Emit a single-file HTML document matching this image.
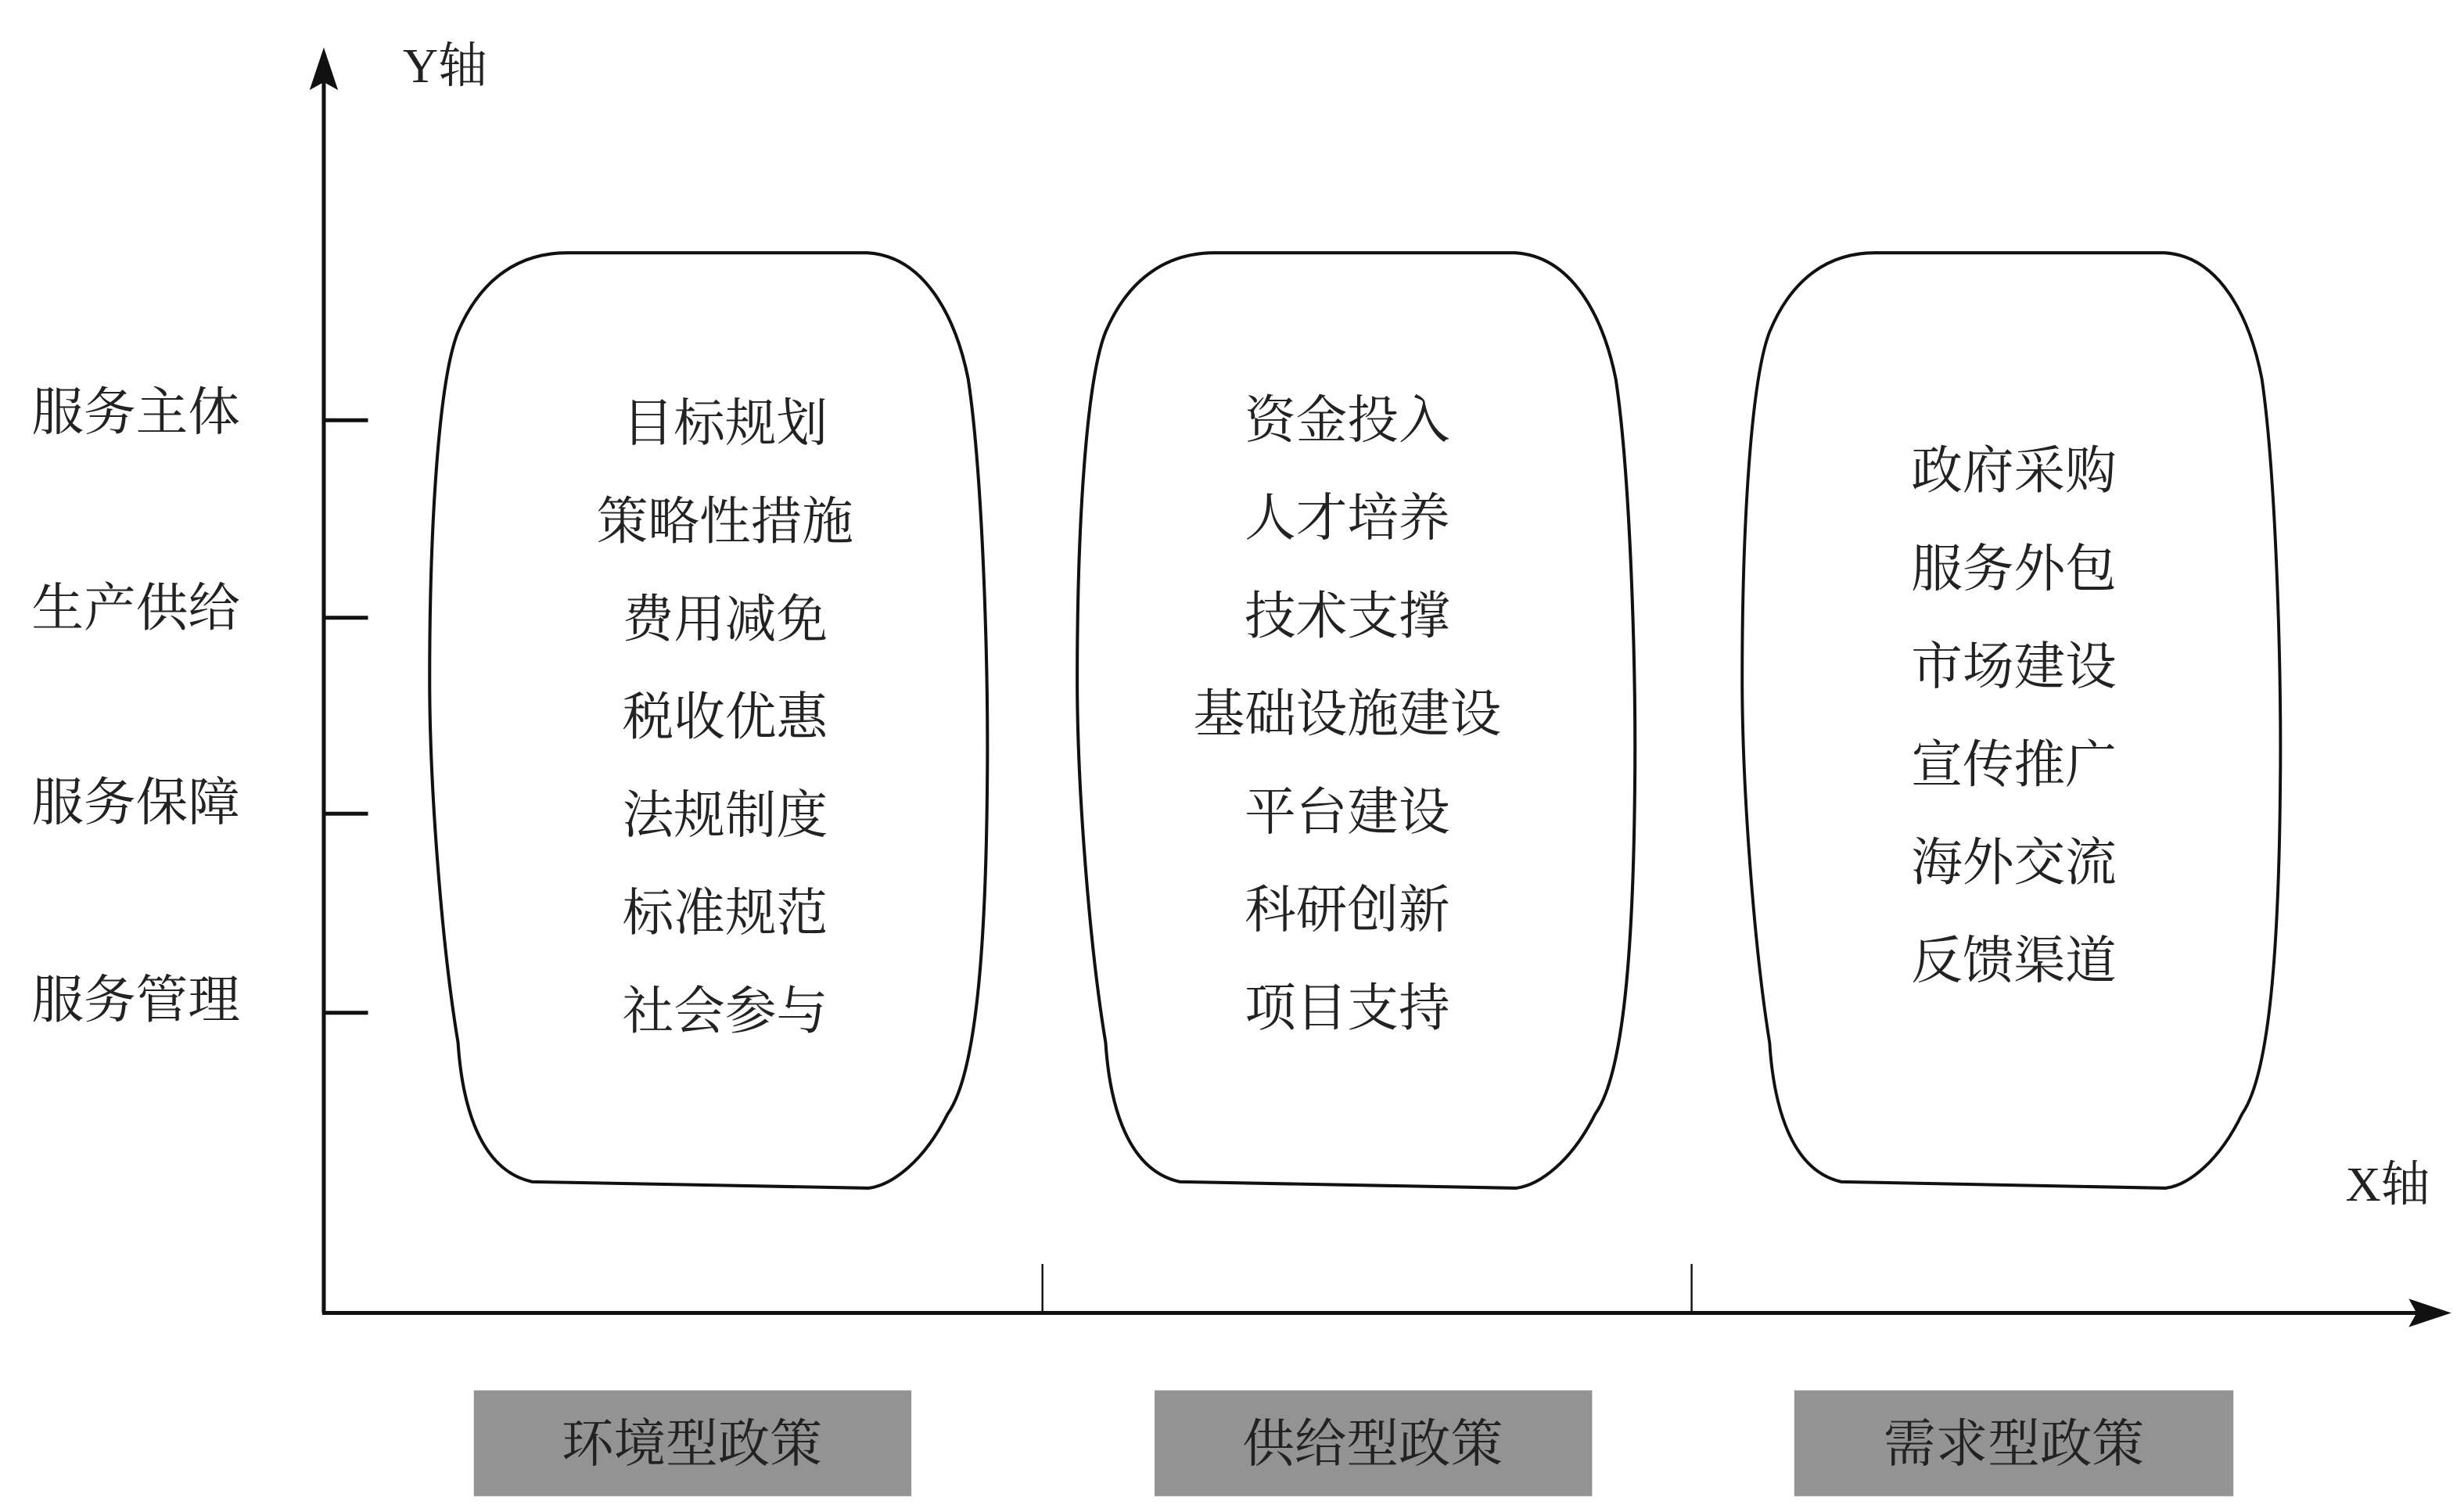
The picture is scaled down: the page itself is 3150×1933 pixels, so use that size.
<!DOCTYPE html>
<html><head><meta charset="utf-8"><style>
html,body{margin:0;padding:0;background:#fff;}
svg{display:block;}
text{font-family:"Liberation Serif","Noto Serif CJK SC",serif;fill:#222;}
</style></head><body>
<svg width="3150" height="1933" viewBox="0 0 1560 957" preserveAspectRatio="none" xmlns="http://www.w3.org/2000/svg">
<defs>
<path id="blob" d="M359,160 L549,160 C585,162 605,200 613,240 C622,300 626,420 625,500 C624,600 618,680 600,705 C585,735 565,750 550,752 L337,748 C300,740 292,690 290,660 C280,600 272,500 272,430 C272,330 278,240 290,210 C305,175 330,160 359,160 Z" fill="none" stroke="#111" stroke-width="2"/>
</defs>
<line x1="205" y1="50" x2="205" y2="831" stroke="#111" stroke-width="2.5"/>
<polygon points="205,30 196,57 205,52 214,57" fill="#111"/>
<line x1="204" y1="831" x2="1530" y2="831" stroke="#111" stroke-width="2.5"/>
<polygon points="1552,831 1525,822 1530,831 1525,840" fill="#111"/>
<g stroke="#111" stroke-width="2.5">
<line x1="205" y1="266" x2="233" y2="266"/>
<line x1="205" y1="391" x2="233" y2="391"/>
<line x1="205" y1="515" x2="233" y2="515"/>
<line x1="205" y1="641" x2="233" y2="641"/>
</g>
<line x1="660" y1="800" x2="660" y2="831" stroke="#111" stroke-width="1.2"/>
<line x1="1071" y1="800" x2="1071" y2="831" stroke="#111" stroke-width="1.2"/>
<text x="255" y="52" font-size="31">Y轴</text>
<text x="1485" y="760" font-size="31">X轴</text>
<g font-size="33">
<text x="20" y="272">服务主体</text>
<text x="20" y="396">生产供给</text>
<text x="20" y="519">服务保障</text>
<text x="20" y="644">服务管理</text>
</g>
<use href="#blob"/>
<use href="#blob" transform="translate(410,0)"/>
<use href="#blob" transform="translate(1103,0) scale(0.965,1) translate(-272,0)"/>
<g font-size="32.5" text-anchor="middle">
<text x="459" y="279">目标规划</text>
<text x="459" y="341">策略性措施</text>
<text x="459" y="403">费用减免</text>
<text x="459" y="465">税收优惠</text>
<text x="459" y="527">法规制度</text>
<text x="459" y="589">标准规范</text>
<text x="459" y="651">社会参与</text>
<text x="853" y="277">资金投入</text>
<text x="853" y="339">人才培养</text>
<text x="853" y="401">技术支撑</text>
<text x="853" y="463">基础设施建设</text>
<text x="853" y="525">平台建设</text>
<text x="853" y="587">科研创新</text>
<text x="853" y="649">项目支持</text>
<text x="1275" y="309">政府采购</text>
<text x="1275" y="371">服务外包</text>
<text x="1275" y="433">市场建设</text>
<text x="1275" y="495">宣传推广</text>
<text x="1275" y="557">海外交流</text>
<text x="1275" y="619">反馈渠道</text>
</g>
<rect x="300" y="880" width="277" height="67" fill="#939393"/>
<rect x="731" y="880" width="277" height="67" fill="#939393"/>
<rect x="1136" y="880" width="278" height="67" fill="#939393"/>
<g font-size="33" text-anchor="middle">
<text x="438" y="925">环境型政策</text>
<text x="869" y="925">供给型政策</text>
<text x="1275" y="925">需求型政策</text>
</g>
</svg>
</body></html>
